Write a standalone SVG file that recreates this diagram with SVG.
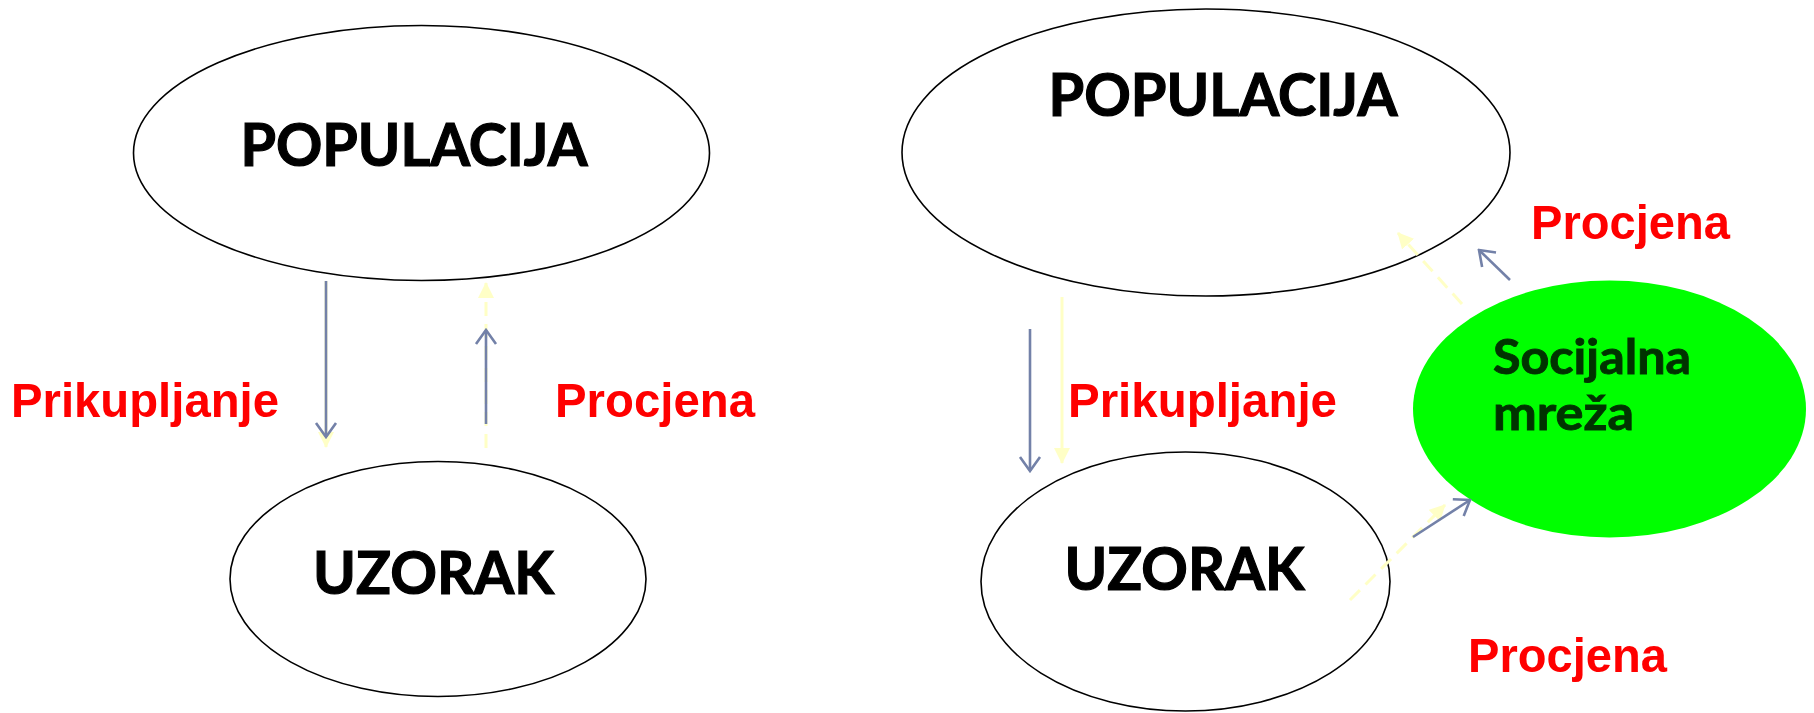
<svg xmlns="http://www.w3.org/2000/svg" width="1814" height="713" viewBox="0 0 1814 713">
<style>
.node{fill:#fff;stroke:#000;stroke-width:1.6}
.green{fill:#00ff00;stroke:none}
.title{font-family:Lato,"Open Sans","DejaVu Sans",sans-serif;font-weight:bold;font-size:60px;fill:#000;stroke:#000;stroke-width:1.2}
.soc{font-family:Lato,"Open Sans","DejaVu Sans",sans-serif;font-weight:bold;font-size:47px;fill:#003300;stroke:#003300;stroke-width:0.9}
.lbl{font-family:"Liberation Sans",Arial,sans-serif;font-weight:bold;font-size:49px;fill:#ff0000}
.blue{stroke:#7381a8;stroke-width:2.6;fill:none}
.yel{stroke:#ffffc6;stroke-width:3;fill:none}
.dash{stroke-dasharray:14 8}
</style>
<defs>
<marker id="chev" markerUnits="userSpaceOnUse" viewBox="0 0 18 24" refX="16" refY="12" markerWidth="18" markerHeight="24" orient="auto">
<path d="M2,2 L16,12 L2,22" fill="none" stroke="#7381a8" stroke-width="2.6"/>
</marker>
<marker id="tri" markerUnits="userSpaceOnUse" viewBox="0 0 16 16" refX="15" refY="8" markerWidth="16" markerHeight="16" orient="auto">
<path d="M0,0 L16,8 L0,16 Z" fill="#ffffc6"/>
</marker>
</defs>
<g id="pop-left">
<ellipse class="node" cx="421.5" cy="153" rx="288" ry="127.5"/>
<text class="title" x="414" y="166" text-anchor="middle" textLength="347" lengthAdjust="spacingAndGlyphs">POPULACIJA</text>
</g>
<g id="uzorak-left">
<ellipse class="node" cx="438" cy="579" rx="208" ry="117.5"/>
<text class="title" x="433.5" y="594" text-anchor="middle" textLength="241" lengthAdjust="spacingAndGlyphs">UZORAK</text>
</g>
<g id="pop-right">
<ellipse class="node" cx="1206" cy="152.5" rx="304" ry="143.5"/>
<text class="title" x="1223" y="116" text-anchor="middle" textLength="349" lengthAdjust="spacingAndGlyphs">POPULACIJA</text>
</g>
<g id="uzorak-right">
<ellipse class="node" cx="1185.5" cy="581.5" rx="204.5" ry="129.5"/>
<text class="title" x="1184.5" y="590" text-anchor="middle" textLength="240" lengthAdjust="spacingAndGlyphs">UZORAK</text>
</g>
<g id="socijalna-mreza">
<ellipse class="green" cx="1609.5" cy="409" rx="196.5" ry="128.5"/>
<text class="soc" x="1493" y="374" textLength="198" lengthAdjust="spacingAndGlyphs">Socijalna</text>
<text class="soc" x="1493" y="430" textLength="141" lengthAdjust="spacingAndGlyphs">mreža</text>
</g>
<g id="connectors">
<line class="yel" x1="326" y1="281" x2="326" y2="447" marker-end="url(#tri)"/>
<line class="blue" x1="326" y1="281" x2="326" y2="437" marker-end="url(#chev)"/>
<line class="yel dash" x1="486" y1="448" x2="486" y2="283" marker-end="url(#tri)"/>
<line class="blue" x1="486" y1="424" x2="486" y2="330" marker-end="url(#chev)"/>
<line class="yel" x1="1062" y1="297" x2="1062" y2="463" marker-end="url(#tri)"/>
<line class="blue" x1="1030" y1="329" x2="1030" y2="471" marker-end="url(#chev)"/>
<line class="yel dash" x1="1462" y1="304" x2="1398" y2="233" marker-end="url(#tri)"/>
<line class="blue" x1="1510" y1="280" x2="1479" y2="250" marker-end="url(#chev)"/>
<line class="yel dash" x1="1350" y1="600" x2="1445" y2="505" marker-end="url(#tri)"/>
<line class="blue" x1="1413" y1="537" x2="1470" y2="500" marker-end="url(#chev)"/>
</g>
<g id="labels">
<text class="lbl" x="11" y="417" textLength="268" lengthAdjust="spacingAndGlyphs">Prikupljanje</text>
<text class="lbl" x="555" y="417" textLength="200" lengthAdjust="spacingAndGlyphs">Procjena</text>
<text class="lbl" x="1068" y="417" textLength="269" lengthAdjust="spacingAndGlyphs">Prikupljanje</text>
<text class="lbl" x="1531" y="239" textLength="199" lengthAdjust="spacingAndGlyphs">Procjena</text>
<text class="lbl" x="1468" y="672" textLength="199" lengthAdjust="spacingAndGlyphs">Procjena</text>
</g>
</svg>
